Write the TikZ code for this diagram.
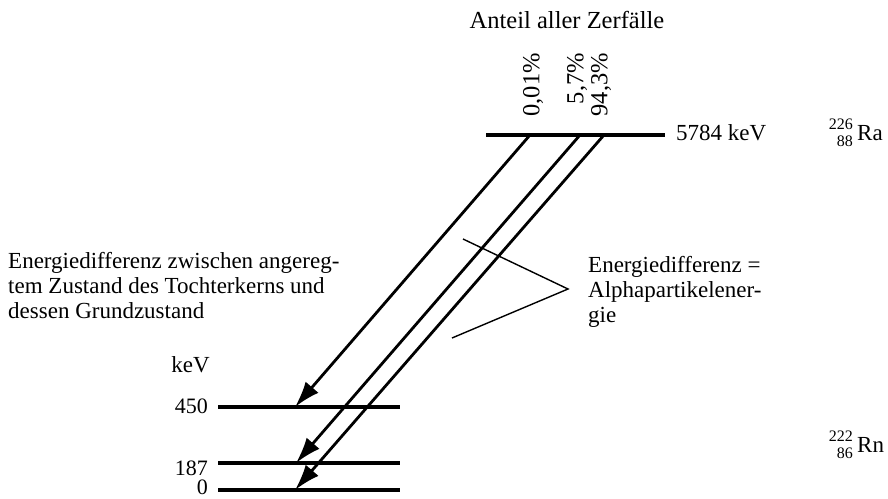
\documentclass[tikz,border=0pt]{standalone}
\usepackage{fontspec}
\setmainfont{Liberation Serif}
\usetikzlibrary{arrows.meta}
\tikzset{
  txt/.style={inner sep=0pt, font=\fontsize{23}{25}\selectfont},
  big/.style={inner sep=0pt, font=\fontsize{24.5}{26}\selectfont},
  small/.style={inner sep=0pt, font=\fontsize{16}{17}\selectfont},
  num/.style={inner sep=0pt, font=\fontsize{22}{22}\selectfont},
  level/.style={line width=3.6pt},
  decay/.style={line width=2.8pt, -{Latex[length=26pt,width=17pt]}},
  pointer/.style={line width=1.4pt},
}
\begin{document}
\begin{tikzpicture}[x=1pt,y=-1pt]
\useasboundingbox (0,0) rectangle (888,498);
% levels
\coordinate (raL) at (486,135);
\coordinate (raR) at (665,135);
\coordinate (l450L) at (218,407);
\coordinate (l450R) at (400,407);
\coordinate (l187L) at (218,463);
\coordinate (l187R) at (400,463);
\coordinate (l0L) at (218,490);
\coordinate (l0R) at (400,490);
\draw[level] (raL) -- (raR);
\draw[level] (l450L) -- (l450R);
\draw[level] (l187L) -- (l187R);
\draw[level] (l0L) -- (l0R);
% decays
\coordinate (s1) at (530,135);
\coordinate (s2) at (580,135);
\coordinate (s3) at (604,135);
\coordinate (e1) at (295,407);
\coordinate (e2) at (296,463);
\coordinate (e3) at (295,490);
\draw[decay] (s1) -- (e1);
\draw[decay] (s2) -- (e2);
\draw[decay] (s3) -- (e3);
% pointer
\coordinate (p1) at (463,239);
\coordinate (pv) at (568,289);
\coordinate (p2) at (452,338);
\draw[pointer] (p1) -- (pv) -- (p2);
% texts
\node[big, anchor=base] (title) at (567,28) {Anteil aller Zerfälle};
\node[big, rotate=90, anchor=east] (pc1) at (533,53) {0,01\%};
\node[big, rotate=90, anchor=east] (pc2) at (577,53) {5,7\%};
\node[big, rotate=90, anchor=east] (pc3) at (601,53) {94,3\%};
\node[txt, anchor=base west] (eRa) at (676,140) {5784 keV};
\node[txt, anchor=base west] (Ra) at (857,140) {Ra};
\node[small, anchor=base east] (RaA) at (853,129) {226};
\node[small, anchor=base east] (RaZ) at (853,146) {88};
\node[txt, anchor=base west] (Rn) at (857,452) {Rn};
\node[small, anchor=base east] (RnA) at (853,441) {222};
\node[small, anchor=base east] (RnZ) at (853,458) {86};
\node[txt, anchor=base east] (kev) at (210,372) {keV};
\node[num, anchor=base east] (t450) at (208,413) {450};
\node[num, anchor=base east] (t187) at (208,475) {187};
\node[num, anchor=base east] (t0) at (208,494) {0};
\node[txt, anchor=north west, align=left] (left) at (8,252) {Energiedifferenz zwischen angereg-\\tem Zustand des Tochterkerns und\\dessen Grundzustand};
\node[txt, anchor=north west, align=left] (right) at (588,256) {Energiedifferenz =\\Alphapartikelener-\\gie};
\end{tikzpicture}
\end{document}
